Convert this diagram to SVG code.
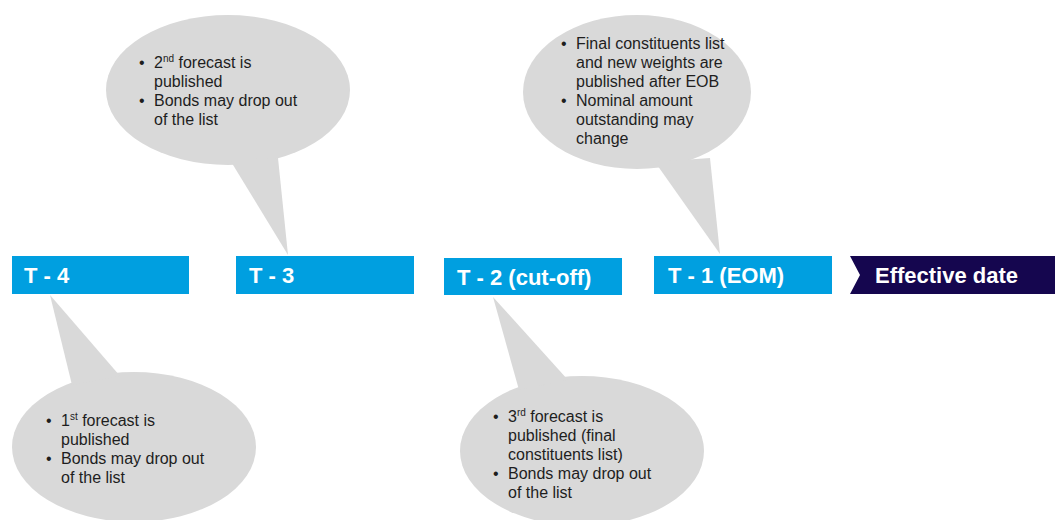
<svg xmlns="http://www.w3.org/2000/svg" width="1055" height="520" viewBox="0 0 1055 520">
<style>
.bub{fill:#d9d9d9;stroke:none}
.bt{font-family:"Liberation Sans",Arial,sans-serif;font-size:16px;fill:#1e1e1e}
.sup{font-size:10px}
.box{fill:#009fe0}
.bx{font-family:"Liberation Sans",Arial,sans-serif;font-size:22px;font-weight:bold;fill:#ffffff}
</style>
<rect width="1055" height="520" fill="#ffffff"/>
<g id="connectors"></g>
<g id="bubble-t3">
<ellipse class="bub" cx="228" cy="90" rx="122" ry="75"/>
<polygon class="bub" points="230,160 278,158 288,255"/>
<text class="bt"><tspan x="139" y="68">•</tspan><tspan x="154" y="68">2<tspan class="sup" dy="-6">nd</tspan><tspan dy="6"> forecast is</tspan></tspan><tspan x="154" y="87">published</tspan><tspan x="139" y="106">•</tspan><tspan x="154" y="106">Bonds may drop out</tspan><tspan x="154" y="125">of the list</tspan></text>
</g>
<g id="bubble-t1">
<ellipse class="bub" cx="637" cy="92" rx="114" ry="77"/>
<polygon class="bub" points="655,162 710,158 720,254"/>
<text class="bt"><tspan x="561" y="49">•</tspan><tspan x="576" y="49">Final constituents list</tspan><tspan x="576" y="68">and new weights are</tspan><tspan x="576" y="87">published after EOB</tspan><tspan x="561" y="106">•</tspan><tspan x="576" y="106">Nominal amount</tspan><tspan x="576" y="125">outstanding may</tspan><tspan x="576" y="144">change</tspan></text>
</g>
<g id="bubble-t4">
<ellipse class="bub" cx="134" cy="447" rx="122" ry="75"/>
<polygon class="bub" points="50,295 72,385 120,376"/>
<text class="bt"><tspan x="46" y="426">•</tspan><tspan x="61" y="426">1<tspan class="sup" dy="-6">st</tspan><tspan dy="6"> forecast is</tspan></tspan><tspan x="61" y="445">published</tspan><tspan x="46" y="464">•</tspan><tspan x="61" y="464">Bonds may drop out</tspan><tspan x="61" y="483">of the list</tspan></text>
</g>
<g id="bubble-t2">
<ellipse class="bub" cx="582" cy="451" rx="122" ry="75"/>
<polygon class="bub" points="493,297 519,390 568,380"/>
<text class="bt"><tspan x="493" y="422">•</tspan><tspan x="508" y="422">3<tspan class="sup" dy="-6">rd</tspan><tspan dy="6"> forecast is</tspan></tspan><tspan x="508" y="441">published (final</tspan><tspan x="508" y="460">constituents list)</tspan><tspan x="493" y="479">•</tspan><tspan x="508" y="479">Bonds may drop out</tspan><tspan x="508" y="498">of the list</tspan></text>
</g>
<g id="t4">
<rect class="box" x="12" y="256" width="177" height="38"/>
<text class="bx" x="24" y="283">T - 4</text>
</g>
<g id="t3">
<rect class="box" x="236" y="256" width="178" height="38"/>
<text class="bx" x="249" y="283">T - 3</text>
</g>
<g id="t2">
<rect class="box" x="444" y="258" width="178" height="37"/>
<text class="bx" x="457" y="285">T - 2 (cut-off)</text>
</g>
<g id="t1">
<rect class="box" x="654" y="256" width="178" height="38"/>
<text class="bx" x="668" y="283">T - 1 (EOM)</text>
</g>
<g id="effective">
<polygon points="850,256 1055,256 1055,294 850,294 860,275" fill="#15064f"/>
<text class="bx" x="875" y="283">Effective date</text>
</g>
</svg>
